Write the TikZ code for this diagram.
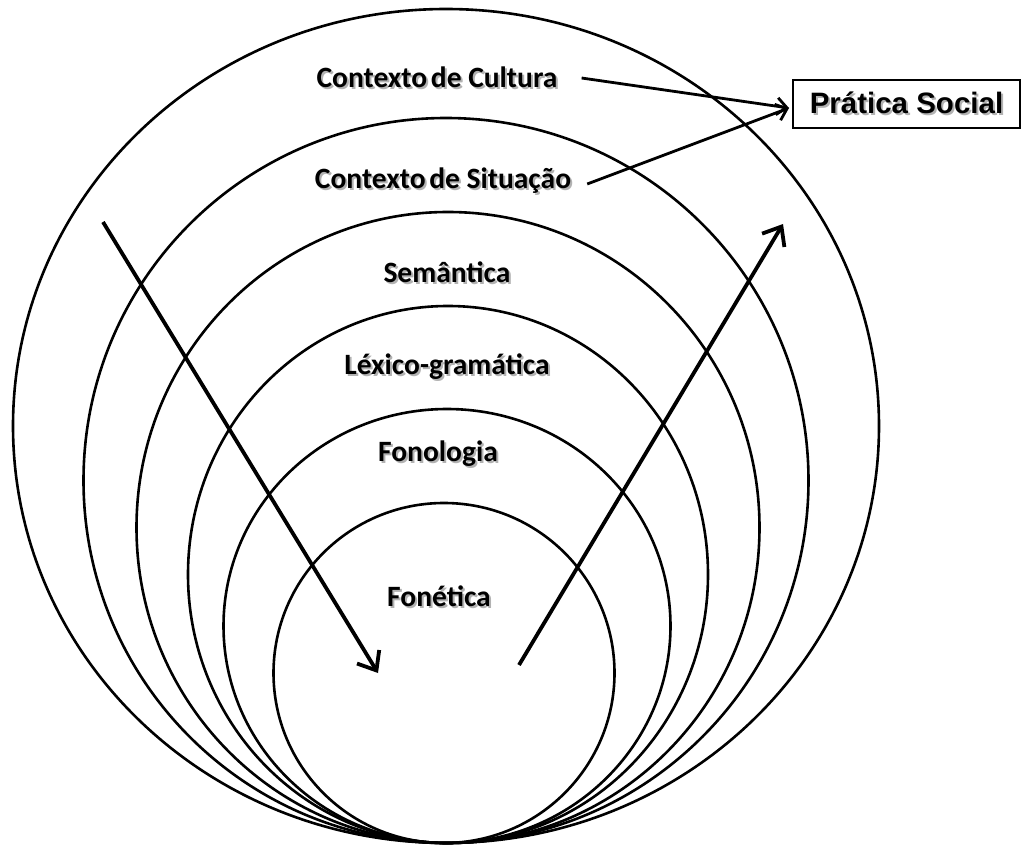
\documentclass[tikz,border=0pt]{standalone}
\usepackage{fontspec}
\setmainfont{Carlito}
\newfontfamily\arialfont{Liberation Sans}
\usetikzlibrary{arrows.meta}
\newcommand\shd[1]{\makebox[0pt][l]{\hspace{2pt}\raisebox{-2.2pt}{\textcolor{black!30}{#1}}}#1}
\begin{document}
\begin{tikzpicture}[x=1pt,y=-1pt,
  ring/.style={line width=2.6pt},
  lbl/.style={font=\fontsize{29.5}{34}\selectfont\bfseries, inner sep=0pt},
  bigarrow/.style={line width=3.8pt, -{Straight Barb[length=16pt,width=26pt,line width=3.8pt]}},
  smallarrow/.style={line width=2.8pt, -{Straight Barb[length=10pt,width=17pt,line width=2.8pt]}},
  psbox/.style={draw, line width=2pt, font=\arialfont\fontsize{29.5}{34}\selectfont\bfseries, minimum width=227pt, minimum height=48pt, inner sep=0pt}]
\useasboundingbox (0,0) rectangle (1023,850);
\fill[white] (0,0) rectangle (1023,850);
% nested ellipses, all touching at the bottom
\draw[ring] (446,426) ellipse [x radius=433pt, y radius=417pt];
\draw[ring] (446,480.5) ellipse [x radius=362.5pt, y radius=362.5pt];
\draw[ring] (448,527.5) ellipse [x radius=311.5pt, y radius=315.5pt];
\draw[ring] (448,574.5) ellipse [x radius=260pt, y radius=268.5pt];
\draw[ring] (447,626) ellipse [x radius=223.5pt, y radius=217pt];
\draw[ring] (444,673) ellipse [x radius=170.5pt, y radius=170pt];
% labels
\node[lbl] (cult) at (437,78) {\shd{Contexto\hspace{-3pt} de Cultura}};
\node[lbl] (sit) at (443,182) {\shd{Contexto\hspace{-3pt} de Situação}};
\node[lbl] (sem) at (447,273) {\shd{Semântica}};
\node[lbl] (lex) at (447,368) {\shd{Léxico-gramática}};
\node[lbl] (fonol) at (438,455) {\shd{Fonologia}};
\node[lbl] (fonet) at (439,597) {\shd{Fonética}};
\node[psbox] (ps) at (906.5,104) {\shd{Prática Social}};
% arrows to Prática Social
\draw[smallarrow] ([xshift=24pt]cult.east) -- ([xshift=-3pt,yshift=-4pt]ps.west);
\draw[smallarrow] ([xshift=16pt,yshift=-2pt]sit.east) -- ([xshift=-3pt,yshift=-4pt]ps.west);
% big arrows
\coordinate (dstart) at (103,222);
\coordinate (dend) at (378,673);
\coordinate (ustart) at (519,665);
\coordinate (uend) at (783,224);
\draw[bigarrow] (dstart) -- (dend);
\draw[bigarrow] (ustart) -- (uend);
\end{tikzpicture}
\end{document}
